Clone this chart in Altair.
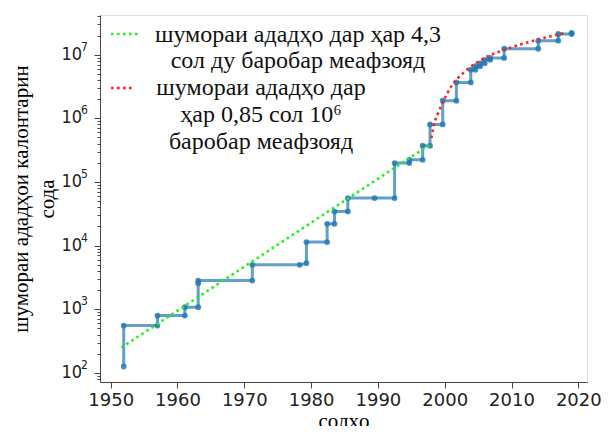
import altair as alt
import pandas as pd

# ---- data ----
# vertices of the record staircase (year, number of digits)
rec_years = [1951.95, 1951.95, 1957.0, 1957.0, 1961.1, 1961.1, 1963.1, 1963.1, 1963.1,
             1971.2, 1971.2, 1978.3, 1979.3, 1979.3, 1982.4, 1982.4, 1983.5, 1983.5,
             1985.5, 1985.5, 1989.5, 1992.5, 1992.5, 1994.7, 1994.7, 1996.7, 1996.7,
             1997.8, 1997.8, 1999.7, 1999.7, 2001.75, 2001.75, 2003.9, 2003.9,
             2004.6, 2004.6, 2005.3, 2005.3, 2006.0, 2006.0, 2006.8, 2006.8,
             2008.9, 2008.9, 2014.0, 2014.0, 2017.0, 2017.0, 2019.0, 2019.0]
rec_digits = [126, 555, 555, 796, 796, 1079, 1079, 2570, 2825,
              2825, 4990, 4990, 5300, 11350, 11350, 22000, 22000, 34400,
              34400, 55800, 55800, 55800, 198000, 198000, 223000, 223000, 371000,
              371000, 802000, 802000, 1.89e6, 1.89e6, 3.66e6, 3.66e6, 5.8e6,
              5.8e6, 6.6e6, 6.6e6, 7.3e6, 7.3e6, 8.3e6, 8.3e6, 8.9e6,
              8.9e6, 1.24e7, 1.24e7, 1.66e7, 1.66e7, 2.11e7, 2.11e7, 2.2e7]

# green trend (straight on log scale): end points
green_years = [1951.6, 1997.75]
green_digits = [250, 3.85e5]

# red trend: points
red_years = [1998.0, 1998.4, 1999.0, 1999.8, 2001.0, 2003.0, 2006.0, 2009.0, 2013.5, 2018.0]
red_digits = [4.9e5, 8.0e5, 1.2e6, 1.85e6, 3.2e6, 5.4e6, 8.9e6, 1.2e7, 1.68e7, 2.19e7]

legend_green = ["шумораи ададҳо дар ҳар 4,3", "сол ду баробар меафзояд"]
legend_red = ["шумораи ададҳо дар", "ҳар 0,85 сол 10⁶", "баробар меафзояд"]

x_title = "солҳо"
y_title = ["шумораи ададҳои калонтарин", "сода"]
x_ticks = [1950, 1960, 1970, 1980, 1990, 2000, 2010, 2020]
y_label_exponents = [2, 3, 4, 5, 6, 7]

# ---- chart ----
W, H = 487, 367
X_DOMAIN = [1948.4, 2021.3]
Y_DOMAIN = [72, 4.2e7]
SERIF = "Liberation Serif"
SANS = "DejaVu Sans"

y_tick_vals = [m * 10 ** k for k in range(1, 8) for m in range(1, 10)
               if Y_DOMAIN[0] <= m * 10 ** k <= Y_DOMAIN[1]]
is_major = "abs(log(datum.value)/LN10 - round(log(datum.value)/LN10)) < 0.001"

xscale = alt.Scale(domain=X_DOMAIN, nice=False, zero=False)
yscale = alt.Scale(type="log", domain=Y_DOMAIN, nice=False)

xaxis = alt.Axis(values=x_ticks, format="d", title=x_title, grid=False,
                 labelFont=SANS, labelFontSize=18, labelColor="#222",
                 titleFont=SERIF, titleFontSize=21, titleFontWeight="normal",
                 titleColor="#000", titlePadding=1, tickSize=6, tickColor="#444",
                 domainColor="#444", labelPadding=3)
yaxis = alt.Axis(values=y_tick_vals, title=y_title, grid=False, labels=False,
                 titleFont=SERIF, titleFontSize=21, titleFontWeight="normal",
                 titleColor="#000", titlePadding=36, titleLineHeight=26,
                 tickSize={"condition": {"test": is_major, "value": 6}, "value": 3},
                 tickColor="#444", domainColor="#444")

rec_df = pd.DataFrame({"year": rec_years, "digits": rec_digits,
                       "i": list(range(len(rec_years)))})
green_df = pd.DataFrame({"year": green_years, "digits": green_digits})
red_df = pd.DataFrame({"year": red_years, "digits": red_digits})
lab_df = pd.DataFrame({"value": [10.0 ** e for e in y_label_exponents],
                       "sup": [str(e) for e in y_label_exponents]})

base = alt.Chart(rec_df).encode(
    x=alt.X("year:Q", scale=xscale, axis=xaxis),
    y=alt.Y("digits:Q", scale=yscale, axis=yaxis),
    order="i:Q",
)
rec_line = base.mark_line(color="#1f77b4", opacity=0.7, strokeWidth=3)
rec_pts = base.mark_circle(color="#1f77b4", opacity=0.8, size=34)

green = alt.Chart(green_df).mark_line(color="#22ee22", strokeWidth=2.6,
                                      strokeDash=[2.6, 3.4]).encode(
    x=alt.X("year:Q", scale=xscale), y=alt.Y("digits:Q", scale=yscale))
red = alt.Chart(red_df).mark_line(color="#ff2020", strokeWidth=2.6,
                                  strokeDash=[2.6, 3.4], interpolate="monotone").encode(
    x=alt.X("year:Q", scale=xscale), y=alt.Y("digits:Q", scale=yscale))

# y tick labels "10" with superscript exponent
lab_ten = alt.Chart(lab_df).mark_text(font="DejaVu Sans Condensed", fontSize=18,
                                      align="right", baseline="middle",
                                      color="#222").encode(
    x=alt.value(-18), y=alt.Y("value:Q", scale=yscale), text=alt.value("10"))
lab_sup = alt.Chart(lab_df).mark_text(font="DejaVu Sans Condensed", fontSize=12,
                                      align="left", baseline="middle", dy=-8,
                                      color="#222").encode(
    x=alt.value(-19), y=alt.Y("value:Q", scale=yscale), text="sup:N")

one = pd.DataFrame({"k": [0]})


def txt(s, cx, cy):
    return alt.Chart(one).mark_text(font=SERIF, fontSize=24, align="center",
                                    baseline="middle", color="#111").encode(
        x=alt.value(cx), y=alt.value(cy), text=alt.value(s))


def sample(color, x1, x2, y):
    return alt.Chart(one).mark_rule(color=color, strokeWidth=2.6,
                                    strokeDash=[2.6, 3.4]).encode(
        x=alt.value(x1), x2=alt.value(x2), y=alt.value(y))


legend = [
    sample("#22ee22", 11, 38, 19),
    txt(legend_green[0], 198, 20),
    txt(legend_green[1], 198, 46),
    sample("#ff2020", 11, 34, 73),
    txt(legend_red[0], 161, 73),
    txt(legend_red[1], 161, 100),
    txt(legend_red[2], 161, 127),
]

chart = alt.layer(rec_line, rec_pts, green, red, lab_ten, lab_sup, *legend).properties(
    width=W, height=H,
    autosize=alt.AutoSizeParams(type="none"),
    padding={"left": 92, "top": 7, "right": 18, "bottom": 44},
).configure_view(stroke="#444", strokeWidth=1.2).configure(background="white")

chart.save("out.html", embed_options={"renderer": "svg", "actions": False})
